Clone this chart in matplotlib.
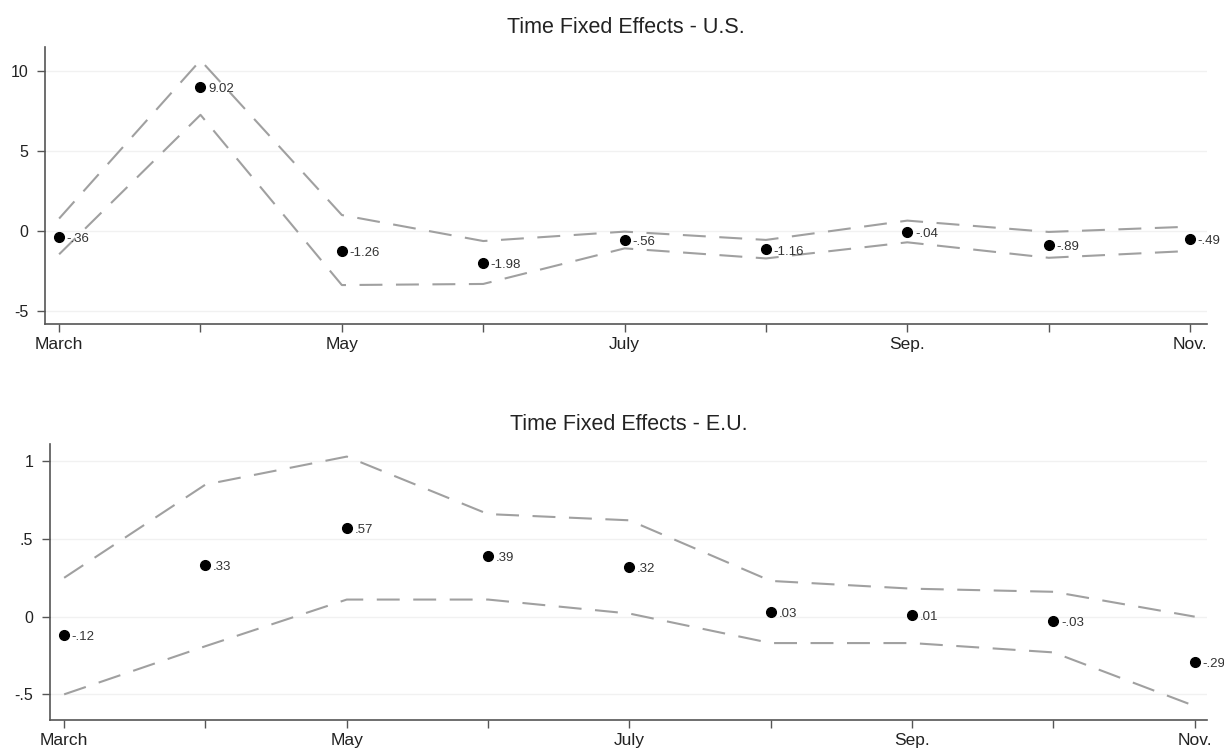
import matplotlib
matplotlib.use("Agg")
import matplotlib.pyplot as plt

plt.rcParams['font.family'] = ['Liberation Sans', 'DejaVu Sans']

months = ['March', '', 'May', '', 'July', '', 'Sep.', '', 'Nov.']

us_coef = [-0.36, 9.02, -1.26, -1.98, -0.56, -1.16, -0.04, -0.89, -0.49]
us_upper = [0.78, 10.70, 1.00, -0.63, -0.04, -0.56, 0.65, -0.06, 0.27]
us_lower = [-1.46, 7.28, -3.39, -3.32, -1.09, -1.72, -0.71, -1.68, -1.25]
us_yticks = [-5, 0, 5, 10]
us_yticklabels = ['-5', '0', '5', '10']

eu_coef = [-0.12, 0.33, 0.57, 0.39, 0.32, 0.03, 0.01, -0.03, -0.29]
eu_upper = [0.25, 0.85, 1.03, 0.66, 0.62, 0.23, 0.18, 0.16, 0.00]
eu_lower = [-0.50, -0.19, 0.11, 0.11, 0.02, -0.17, -0.17, -0.23, -0.575]
eu_yticks = [-0.5, 0, 0.5, 1]
eu_yticklabels = ['-.5', '0', '.5', '1']


def stata_fmt(v):
    s = f"{abs(v):.2f}"
    if s.startswith('0'):
        s = s[1:]
    return ('-' if v < 0 else '') + s


fig = plt.figure(figsize=(12.24, 7.51), dpi=100)
ax_us = fig.add_axes([45 / 1224, (751 - 324) / 751, (1207 - 45) / 1224, (324 - 46.7) / 751])
ax_eu = fig.add_axes([50 / 1224, (751 - 720) / 751, (1206.7 - 50) / 1224, (720 - 444) / 751])

panels = [
    (ax_us, us_coef, us_upper, us_lower, us_yticks, us_yticklabels, (-5.83, 11.55), (-0.10, 8.12), 'Time Fixed Effects - U.S.'),
    (ax_eu, eu_coef, eu_upper, eu_lower, eu_yticks, eu_yticklabels, (-0.665, 1.111), (-0.10, 8.085), 'Time Fixed Effects - E.U.'),
]

for ax, coef, up, lo, yt, ytl, ylim, xlim, title in panels:
    x = list(range(len(months)))
    for yv in yt:
        ax.axhline(yv, color='#f1f1f1', lw=1.0, zorder=0)
    ax.plot(x, up, color='#a0a0a0', lw=1.5, dashes=(11, 6.5), zorder=2)
    ax.plot(x, lo, color='#a0a0a0', lw=1.5, dashes=(11, 6.5), zorder=2)
    ax.plot(x, coef, 'o', color='black', markersize=7, zorder=3)
    for xi, v in zip(x, coef):
        ax.annotate(stata_fmt(v), (xi, v), xytext=(5.5, -1.5), textcoords='offset points',
                    ha='left', va='center', fontsize=9.5, color='#333333', zorder=4)
    ax.set_xlim(*xlim)
    ax.set_ylim(*ylim)
    ax.set_xticks(x)
    ax.set_xticklabels(months)
    ax.set_yticks(yt)
    ax.set_yticklabels(ytl)
    for side in ['top', 'right']:
        ax.spines[side].set_visible(False)
    for side in ['left', 'bottom']:
        ax.spines[side].set_color('#555555')
        ax.spines[side].set_linewidth(1.2)
    ax.tick_params(axis='both', direction='out', length=6, width=1.0, color='#555555',
                   labelcolor='#222222')
    ax.tick_params(axis='x', labelsize=12.5, pad=3.5)
    ax.tick_params(axis='y', labelsize=11.5, pad=6)
    ax.set_title(title, fontsize=15.5, color='#222222', pad=10)

fig.savefig('out.png', dpi=100, facecolor='white')
